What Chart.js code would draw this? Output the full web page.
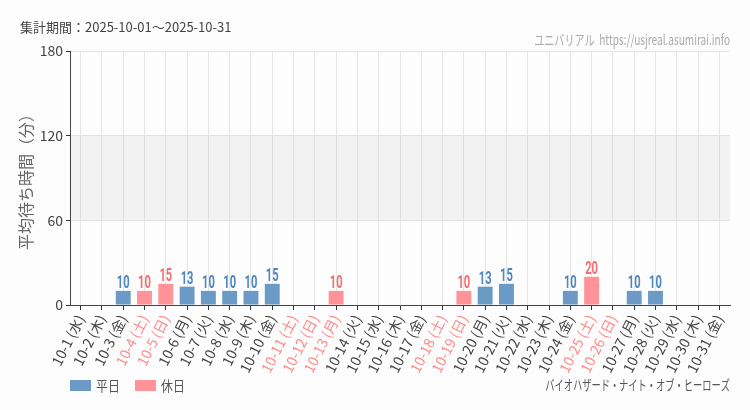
<!DOCTYPE html>
<html>
<head>
<meta charset="utf-8">
<script src="https://cdn.jsdelivr.net/npm/chart.js@4/dist/chart.umd.min.js"></script>
<style>
  html, body { margin: 0; padding: 0; background: #fcfdfc; }
  #wrap { width: 750px; height: 410px; position: relative; }
</style>
</head>
<body>
<div id="wrap"><canvas id="waitChart" width="750" height="410"></canvas></div>
<script>
// Data
const days = ['10-1', '10-2', '10-3', '10-4', '10-5', '10-6', '10-7', '10-8', '10-9', '10-10',
    '10-11', '10-12', '10-13', '10-14', '10-15', '10-16', '10-17', '10-18', '10-19', '10-20',
    '10-21', '10-22', '10-23', '10-24', '10-25', '10-26', '10-27', '10-28', '10-29', '10-30', '10-31'];
const weekdays = ['水', '木', '金', '土', '日', '月', '火', '水', '木', '金',
    '土', '日', '月', '火', '水', '木', '金', '土', '日', '月',
    '火', '水', '木', '金', '土', '日', '月', '火', '水', '木', '金'];
const holidayFlags = [0, 0, 0, 1, 1, 0, 0, 0, 0, 0,
    1, 1, 1, 0, 0, 0, 0, 1, 1, 0,
    0, 0, 0, 0, 1, 1, 0, 0, 0, 0, 0];
const waitMinutes = [null, null, 10, 10, 15, 13, 10, 10, 10, 15,
    null, null, 10, null, null, null, null, null, 10, 13,
    15, null, null, 10, 20, null, 10, 10, null, null, null];
const yTicks = [0, 60, 120, 180];

const BLUE = '#6b9ac7';
const PINK = '#ff9398';
const BLUE_TEXT = '#4f87bf';
const PINK_TEXT = '#f56e72';
const CJK = '"Noto Sans CJK JP", "Noto Sans", sans-serif';

const labels = days.map((d, i) => d + ' (' + weekdays[i] + ')');
const weekdayData = waitMinutes.map((v, i) => holidayFlags[i] ? null : v);
const holidayData = waitMinutes.map((v, i) => holidayFlags[i] ? v : null);

// draw text squeezed horizontally (the original uses a condensed face)
function drawNarrow(ctx, text, x, y, font, sx, align) {
    ctx.save();
    ctx.font = font;
    ctx.textAlign = align;
    ctx.translate(x, y);
    ctx.scale(sx, 1);
    ctx.fillText(text, 0, 0);
    ctx.restore();
}

// shaded band between 60 and 120
const bandPlugin = {
    id: 'band',
    beforeDatasetsDraw(chart) {
        const { ctx, chartArea, scales } = chart;
        const y1 = scales.y.getPixelForValue(120);
        const y2 = scales.y.getPixelForValue(60);
        ctx.save();
        ctx.fillStyle = 'rgba(0,0,0,0.045)';
        ctx.fillRect(chartArea.left, y1, chartArea.right - chartArea.left, y2 - y1);
        ctx.restore();
    }
};

// value labels above bars
const valueLabels = {
    id: 'valueLabels',
    afterDatasetsDraw(chart) {
        const { ctx } = chart;
        ctx.save();
        ctx.textBaseline = 'alphabetic';
        chart.data.datasets.forEach((ds, di) => {
            chart.getDatasetMeta(di).data.forEach((bar, i) => {
                const v = ds.data[i];
                if (v == null) return;
                ctx.fillStyle = di === 0 ? BLUE_TEXT : PINK_TEXT;
                drawNarrow(ctx, String(v), bar.x, bar.y - 3, 'bold 18px Roboto', 0.62, 'center');
            });
        });
        ctx.restore();
    }
};

// header, footer and legend texts
const textPlugin = {
    id: 'texts',
    afterDraw(chart) {
        const { ctx } = chart;
        ctx.save();
        ctx.textBaseline = 'middle';
        ctx.fillStyle = '#444';
        ctx.font = '13px ' + CJK;
        ctx.textAlign = 'left';
        ctx.fillText('集計期間：2025-10-01～2025-10-31', 20, 27);

        ctx.fillStyle = '#aaa';
        drawNarrow(ctx, 'ユニバリアル  https://usjreal.asumirai.info', 730, 40, '14px ' + CJK, 0.72, 'right');

        ctx.fillStyle = '#555';
        drawNarrow(ctx, 'バイオハザード・ナイト・オブ・ヒーローズ', 730, 385, '14px ' + CJK, 0.66, 'right');

        // legend
        const items = [[BLUE, '平日', 70], [PINK, '休日', 135]];
        items.forEach(([c, t, x]) => {
            ctx.fillStyle = c;
            ctx.fillRect(x, 380, 21, 11);
            ctx.fillStyle = '#555';
            drawNarrow(ctx, t, x + 26, 386, '14px ' + CJK, 0.85, 'left');
        });
        ctx.restore();
    }
};

new Chart(document.getElementById('waitChart'), {
    type: 'bar',
    data: {
        labels,
        datasets: [
            { label: '平日', data: weekdayData, backgroundColor: BLUE, barPercentage: 0.7, categoryPercentage: 1.0 },
            { label: '休日', data: holidayData, backgroundColor: PINK, barPercentage: 0.7, categoryPercentage: 1.0 }
        ]
    },
    options: {
        responsive: false,
        animation: false,
        layout: { padding: { top: 51, left: 12, right: 20, bottom: 0 } },
        plugins: {
            legend: { display: false },
            tooltip: { enabled: false }
        },
        scales: {
            x: {
                stacked: true,
                afterFit: (scale) => { scale.height = 105; },
                grid: { offset: false, color: '#e6e6e6', tickColor: '#333', tickLength: 5 },
                border: { color: '#444', width: 1 },
                ticks: {
                    autoSkip: false,
                    maxRotation: 63,
                    minRotation: 63,
                    padding: 2,
                    font: { size: 14, family: CJK },
                    color: (c) => holidayFlags[c.index] ? '#ff8a8a' : '#444'
                }
            },
            y: {
                stacked: true,
                min: 0,
                max: 180,
                afterFit: (scale) => { scale.width = 58; },
                afterBuildTicks: (scale) => { scale.ticks = yTicks.map(v => ({ value: v })); },
                grid: { color: '#e6e6e6', tickColor: '#333', tickLength: 4 },
                border: { color: '#444', width: 1 },
                ticks: { padding: 3, color: '#444', font: { size: 14, family: CJK } },
                title: { display: true, text: '平均待ち時間（分）', color: '#666', font: { size: 16, family: CJK } }
            }
        }
    },
    plugins: [bandPlugin, valueLabels, textPlugin]
});
</script>
</body>
</html>
